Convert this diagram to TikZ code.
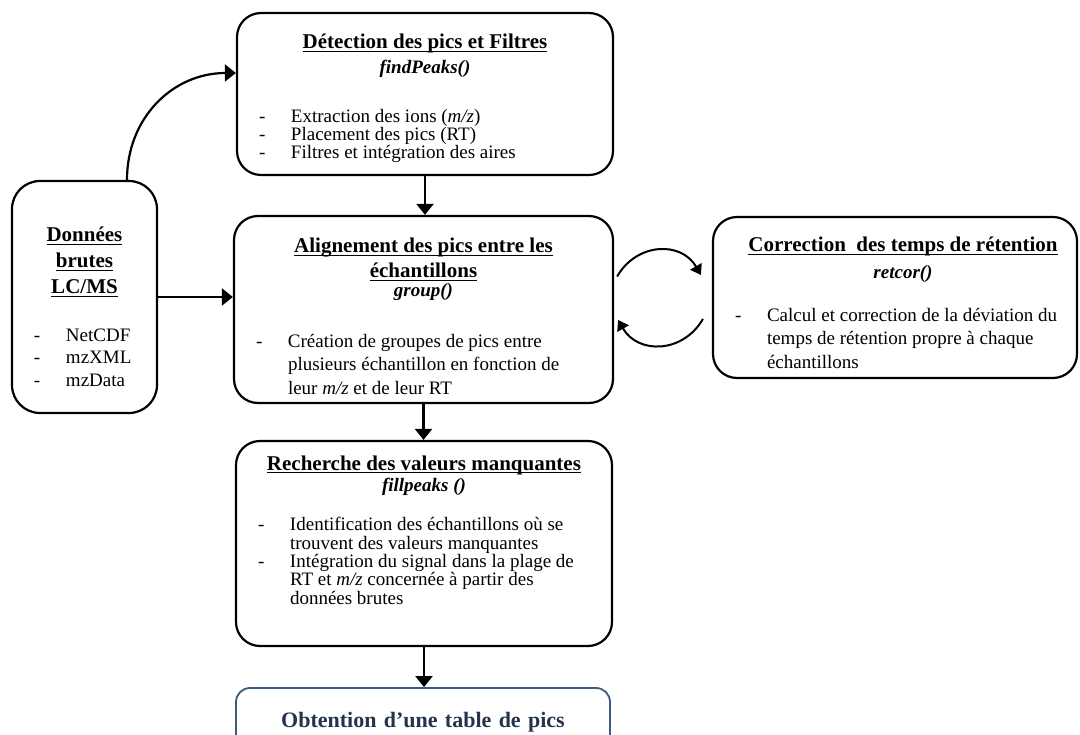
\documentclass[tikz,border=0pt]{standalone}
\usepackage{fontspec}
\setmainfont{Liberation Serif}
\usetikzlibrary{arrows.meta}

\definecolor{bordbleu}{HTML}{3D5A80}
\definecolor{textebleu}{HTML}{24344D}

% title, function name and list item of a box
\newcommand{\souligne}[1]{\leavevmode\setbox0\hbox{#1}\rlap{\rule[-3pt]{\wd0}{1.3pt}}\box0}
\newcommand{\titre}[1]{\souligne{\textbf{#1}}}
\newcommand{\fonction}[1]{\textbf{\textit{#1}}}
\newcommand{\tiret}[1]{\par\noindent\hspace*{8pt}\makebox[32pt][l]{-}\parbox[t]{\dimexpr\linewidth-40pt}{\raggedright #1}\par}
\newcommand{\grand}{\fontsize{21}{25}\selectfont}
\newcommand{\moyen}[1]{\fontsize{19}{#1}\selectfont\lineskiplimit=-10pt}
% box contents: width, height, space above the title
\newcommand{\contenu}[4]{\parbox[c][#2][t]{#1}{\vspace*{#3}\raggedright #4}}

\tikzset{
    boite/.style={draw, line width=2.2pt, rounded corners=24pt, inner xsep=14pt, inner ysep=0pt},
    fleche/.style={line width=2.2pt, -{Triangle[length=11pt,width=17pt]}},
    petitefleche/.style={line width=2pt, -{Triangle[length=10pt,width=13pt]}}
}

\begin{document}
\begin{tikzpicture}[x=1pt, y=-1pt]
    \useasboundingbox (0,0) rectangle (1080,735);

    % Boxes
    \node[boite, font=\moyen{16.5}] (detection) at (425,94) {\contenu{348pt}{162pt}{16pt}{%
        {\centering\grand\rule{0pt}{20pt}\titre{Détection des pics et Filtres}\\
         \moyen{25}\fonction{findPeaks()}\par}
        \vspace{30pt}
        \tiret{Extraction des ions (\textit{m/z})}
        \tiret{Placement des pics (RT)}
        \tiret{Filtres et intégration des aires}}};

    \node[boite, rounded corners=28pt, font=\moyen{22.5}] (donnees) at (84.5,297) {\contenu{117pt}{232pt}{41pt}{%
        {\centering\fontsize{21}{26}\selectfont\rule{0pt}{20pt}\titre{Données}\\\titre{brutes}\\\titre{LC/MS}\par}
        \vspace{25pt}
        \tiret{NetCDF}
        \tiret{mzXML}
        \tiret{mzData}}};

    \node[boite, font=\moyen{23.5}] (alignement) at (423.5,309.5) {\contenu{351pt}{187pt}{17pt}{%
        {\centering\grand\rule{0pt}{20pt}\titre{Alignement des pics entre les}\\\titre{échantillons}\\[-6pt]
         \moyen{25}\fonction{group()}\par}
        \vspace{27pt}
        \tiret{Création de groupes de pics entre\\plusieurs échantillon en fonction de\\leur \textit{m/z} et de leur RT}}};

    \node[boite, font=\moyen{23.5}] (correction) at (895,297.5) {\contenu{336pt}{161pt}{15pt}{%
        {\centering\grand\rule{0pt}{20pt}\hspace*{16pt}\titre{Correction\ \ des temps de rétention}\\[2pt]
         \moyen{25}\hspace*{16pt}\fonction{retcor()}\par}
        \vspace{19pt}
        \tiret{Calcul et correction de la déviation du\\temps de rétention propre à chaque\\échantillons}}};

    \node[boite, font=\moyen{18.5}] (recherche) at (424,543.5) {\contenu{348pt}{205pt}{9pt}{%
        {\centering\grand\rule{0pt}{20pt}\titre{Recherche des valeurs manquantes}\\[-1pt]
         \moyen{22}\fonction{fillpeaks ()}\par}
        \vspace{21pt}
        \tiret{Identification des échantillons où se\\trouvent des valeurs manquantes}
        \tiret{Intégration du signal dans la plage de\\RT et \textit{m/z} concernée à partir des\\données brutes}}};

    \node[boite, draw=bordbleu, line width=1.8pt, rounded corners=14pt, text width=346pt, align=center,
          minimum height=68pt, text=textebleu, font=\fontsize{22}{26}\selectfont\bfseries] (obtention) at (423,722) {Obtention d’une table de pics};

    % Connectors
    \draw[fleche] ([xshift=42.5pt]donnees.north) to[out=90, in=180, looseness=1.05] ([yshift=21pt]detection.west);
    \draw[fleche] (donnees.east) -- (donnees.east -| alignement.west);
    \draw[fleche] (detection.south) -- (detection.south |- alignement.north);
    \draw[fleche] (alignement.south) -- (alignement.south |- recherche.north);
    \draw[fleche] (recherche.south) -- (recherche.south |- obtention.north);
    \draw[petitefleche] ([xshift=3pt,yshift=33pt]alignement.east) to[out=60, in=120, looseness=1.2] ([xshift=-11pt,yshift=22.5pt]correction.west);
    \draw[petitefleche] ([xshift=-9pt,yshift=-21.5pt]correction.west) to[out=-120, in=-60, looseness=1.2] ([xshift=4pt,yshift=-10.5pt]alignement.east);
\end{tikzpicture}
\end{document}
